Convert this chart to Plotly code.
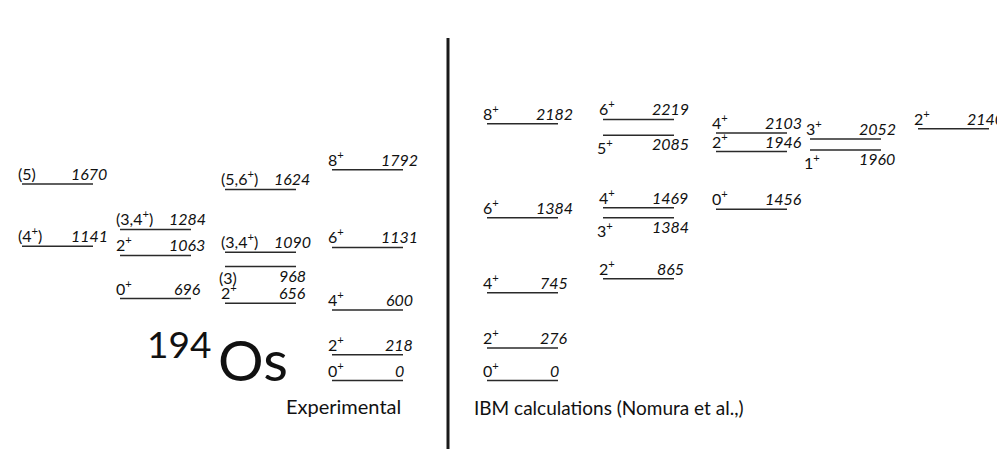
import plotly.graph_objects as go

# ---- data ----
exp_spins = ["(5)", "(4<sup>+</sup>)", "(3,4<sup>+</sup>)", "2<sup>+</sup>", "0<sup>+</sup>",
             "(5,6<sup>+</sup>)", "(3,4<sup>+</sup>)", "(3)", "2<sup>+</sup>",
             "8<sup>+</sup>", "6<sup>+</sup>", "4<sup>+</sup>", "2<sup>+</sup>", "0<sup>+</sup>"]
exp_energies = [1670, 1141, 1284, 1063, 696, 1624, 1090, 968, 656, 1792, 1131, 600, 218, 0]
exp_columns = [0, 0, 1, 1, 1, 2, 2, 2, 2, 3, 3, 3, 3, 3]
exp_below = [False, False, False, False, False, False, False, True, False,
             False, False, False, False, False]

ibm_spins = ["8<sup>+</sup>", "6<sup>+</sup>", "4<sup>+</sup>", "2<sup>+</sup>", "0<sup>+</sup>",
             "6<sup>+</sup>", "5<sup>+</sup>", "4<sup>+</sup>", "3<sup>+</sup>", "2<sup>+</sup>",
             "4<sup>+</sup>", "2<sup>+</sup>", "0<sup>+</sup>",
             "3<sup>+</sup>", "1<sup>+</sup>", "2<sup>+</sup>"]
ibm_energies = [2182, 1384, 745, 276, 0, 2219, 2085, 1469, 1384, 865,
                2103, 1946, 1456, 2052, 1960, 2140]
ibm_columns = [0, 0, 0, 0, 0, 1, 1, 1, 1, 1, 2, 2, 2, 3, 3, 4]
ibm_below = [False, False, False, False, False, False, True, False, True, False,
             False, False, False, False, True, False]

# ---- layout constants ----
WIN_W, WIN_H = 1005, 449
OFF = 8  # page body margin
W, H = WIN_W - OFF, WIN_H - OFF
KEV_PER_PX = 8.5
Y_ZERO_PX = 380.5
exp_col_x = [22, 120, 225, 332]
ibm_col_x = [487, 603, 716, 810, 918]
LEVEL_W = 71
FONT = "Lato"
LINE_COLOR = "#2a2a2a"
TXT = "#111"
FS = 16

fig = go.Figure()
annotations = []


def add_levels(spins, energies, columns, below, col_x):
    for s, e, c, b in zip(spins, energies, columns, below):
        x0 = col_x[c]
        x1 = x0 + LEVEL_W
        fig.add_trace(go.Scatter(x=[x0, x1], y=[e, e], mode="lines",
                                 line=dict(color=LINE_COLOR, width=1.5),
                                 hoverinfo="skip", showlegend=False))
        if b:
            annotations.append(dict(x=x0 - 8, y=e, text=s, xanchor="left", yanchor="top",
                                    yshift=1, showarrow=False,
                                    font=dict(family=FONT, size=FS, color=TXT)))
            annotations.append(dict(x=x1 - 4, y=e, text="<i>%d</i>" % e, xanchor="center",
                                    yanchor="top", yshift=3, showarrow=False,
                                    font=dict(family=FONT, size=FS, color=TXT)))
        else:
            annotations.append(dict(x=x0 - 6, y=e, text=s, xanchor="left", yanchor="bottom",
                                    yshift=-1, showarrow=False,
                                    font=dict(family=FONT, size=FS, color=TXT)))
            annotations.append(dict(x=x1 - 4, y=e, text="<i>%d</i>" % e, xanchor="center",
                                    yanchor="bottom", yshift=-1, showarrow=False,
                                    font=dict(family=FONT, size=FS, color=TXT)))


add_levels(exp_spins, exp_energies, exp_columns, exp_below, exp_col_x)
add_levels(ibm_spins, ibm_energies, ibm_columns, ibm_below, ibm_col_x)


def py(px):
    return 1 - (px - OFF) / H


annotations += [
    dict(x=213, y=py(319), xref="x", yref="paper", text="194", xanchor="right", yanchor="top",
         showarrow=False, font=dict(family=FONT, size=37, color=TXT)),
    dict(x=216, y=py(395), xref="x", yref="paper", text="Os", xanchor="left", yanchor="bottom",
         showarrow=False, font=dict(family=FONT, size=57, color=TXT)),
    dict(x=403, y=py(406), xref="x", yref="paper", text="Experimental", xanchor="right",
         yanchor="middle", showarrow=False, font=dict(family=FONT, size=20, color=TXT)),
    dict(x=472, y=py(407), xref="x", yref="paper", text="IBM calculations (Nomura et al.,)",
         xanchor="left", yanchor="middle", showarrow=False,
         font=dict(family=FONT, size=19, color=TXT)),
]

fig.add_shape(type="line", x0=448, x1=448, xref="x", y0=py(38), y1=0, yref="paper",
              line=dict(color="#1a1a1a", width=3))

fig.update_layout(
    width=W, height=H, margin=dict(l=0, r=0, t=0, b=0),
    paper_bgcolor="white", plot_bgcolor="white",
    xaxis=dict(range=[OFF, WIN_W], visible=False, fixedrange=True),
    yaxis=dict(range=[-(WIN_H - Y_ZERO_PX) * KEV_PER_PX, (Y_ZERO_PX - OFF) * KEV_PER_PX],
               visible=False, fixedrange=True),
    annotations=annotations,
)

fig.write_html("out.html")
